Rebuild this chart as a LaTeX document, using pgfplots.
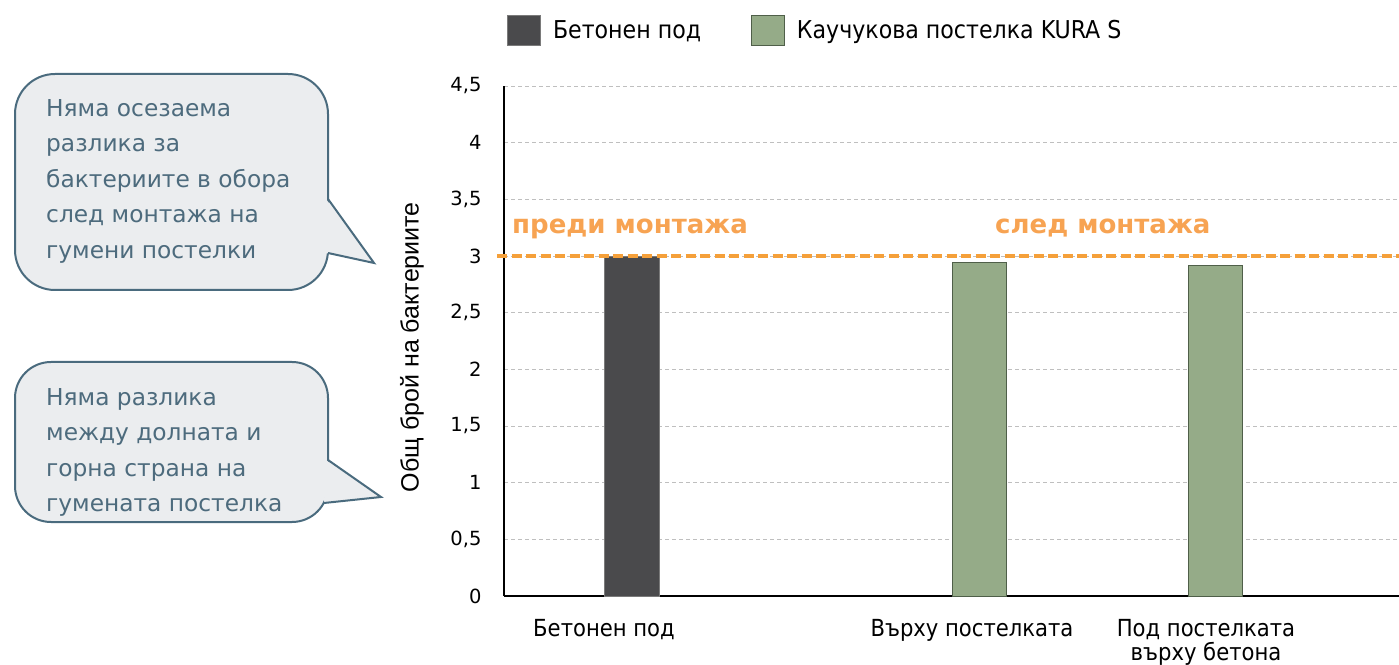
\documentclass[border=0pt]{standalone}
\usepackage{fontspec}
\setmainfont{DejaVu Sans}
\newfontfamily\tah{DejaVu Sans Condensed}
\newfontfamily\ari{Liberation Sans}
\usepackage{pgfplots}
\pgfplotsset{compat=1.18}
\pgfplotsset{sqlegend/.style={legend image code/.code={\draw[##1] (0pt,-15pt) rectangle (33pt,15pt);}}}
\definecolor{barGray}{HTML}{4A4A4C}
\definecolor{barGrayEdge}{HTML}{7A7A7A}
\definecolor{barGreen}{HTML}{95AB88}
\definecolor{barGreenEdge}{HTML}{4F5F49}
\definecolor{refOrange}{HTML}{F5A03A}
\definecolor{txtOrange}{HTML}{F7A352}
\definecolor{callFill}{HTML}{EBEDEF}
\definecolor{callEdge}{HTML}{4A6B7E}
\definecolor{callText}{HTML}{4D6B7D}
\definecolor{gridGray}{HTML}{BFBFBF}
\begin{document}
\begin{tikzpicture}[x=1pt,y=1pt]
\path[use as bounding box] (0,0) rectangle (1399,664);
% callout 1
\filldraw[fill=callFill, draw=callEdge, line width=2pt, rounded corners=40pt] (15,374) rectangle (328,590);
\fill[callFill] (326,465) -- (374,401) -- (326,411) -- cycle;
\draw[callEdge, line width=2pt] (328,465) -- (374,401) -- (328,411);
\node[anchor=north west, align=left, text=callText, font=\fontsize{23.3}{35.6}\selectfont, inner sep=0pt] at (46,565) {Няма осезаема\\разлика за\\бактериите в обора\\след монтажа на\\гумени постелки};
% callout 2
\filldraw[fill=callFill, draw=callEdge, line width=2pt, rounded corners=36pt] (15,142) rectangle (328,302);
\fill[callFill] (326,204) -- (381,167) -- (324,161) -- cycle;
\draw[callEdge, line width=2pt] (328,204) -- (381,167) -- (324,161);
\node[anchor=north west, align=left, text=callText, font=\fontsize{23.3}{35.6}\selectfont, inner sep=0pt] at (46,276) {Няма разлика\\между долната и\\горна страна на\\гумената постелка};
\begin{axis}[
  at={(504pt,68pt)}, anchor=south west, scale only axis,
  width=895pt, height=510pt,
  xmin=504, xmax=1399, ymin=0, ymax=4.5,
  axis x line*=bottom, axis y line*=left,
  axis line style={black, line width=1.3pt, -},
  ytick={0,0.5,1,1.5,2,2.5,3,3.5,4,4.5},
  xtick={604,972,1206},
  xticklabels={Бетонен под, Върху постелката, {Под постелката\\върху бетона}},
  major tick length=0pt,
  ymajorgrids,
  major grid style={gridGray, line width=0.9pt, dash pattern=on 4pt off 3pt},
  yticklabel style={font=\fontsize{19.5}{21}\selectfont, xshift=-19pt},
  /pgf/number format/.cd, use comma, fixed, precision=1, assume math mode=true, /pgfplots/.cd,
  xticklabel style={font=\tah\fontsize{23.5}{23.5}\selectfont, align=center, anchor=north, yshift=-20pt},
  ylabel={Общ брой на бактериите},
  ylabel style={font=\ari\fontsize{25}{28}\selectfont, at={(axis description cs:-0.103,0.488)}, anchor=center},
  clip=false,
  legend columns=2,
  legend cell align=left,
  legend style={at={(axis description cs:0,1)}, anchor=west, xshift=3pt, yshift=56pt,
    draw=none, fill=none, inner sep=0pt,
    font=\tah\fontsize{24.6}{28}\selectfont,
    /tikz/every odd column/.append style={column sep=10pt},
    /tikz/every even column/.append style={column sep=48pt}},
]
\addplot[ybar, bar width=55, bar shift=0pt, fill=barGray, draw=barGrayEdge, line width=0.8pt, sqlegend]
  coordinates {(632,3.0)};
\addlegendentry{Бетонен под}
\addplot[ybar, bar width=54, bar shift=0pt, fill=barGreen, draw=barGreenEdge, line width=0.8pt, sqlegend]
  coordinates {(979,2.94) (1215,2.92)};
\addlegendentry{Каучукова постелка KURA S}
\addplot[refOrange, line width=3.3pt, dash pattern=on 10pt off 4.5pt, forget plot]
  coordinates {(497,3) (1399,3)};
\node[anchor=base west, text=txtOrange, font=\bfseries\fontsize{26}{30}\selectfont, inner sep=0pt] at (axis cs:512,3.2) {преди монтажа};
\node[anchor=base west, text=txtOrange, font=\bfseries\fontsize{26}{30}\selectfont, inner sep=0pt] at (axis cs:995,3.2) {след монтажа};
\end{axis}
\end{tikzpicture}
\end{document}
